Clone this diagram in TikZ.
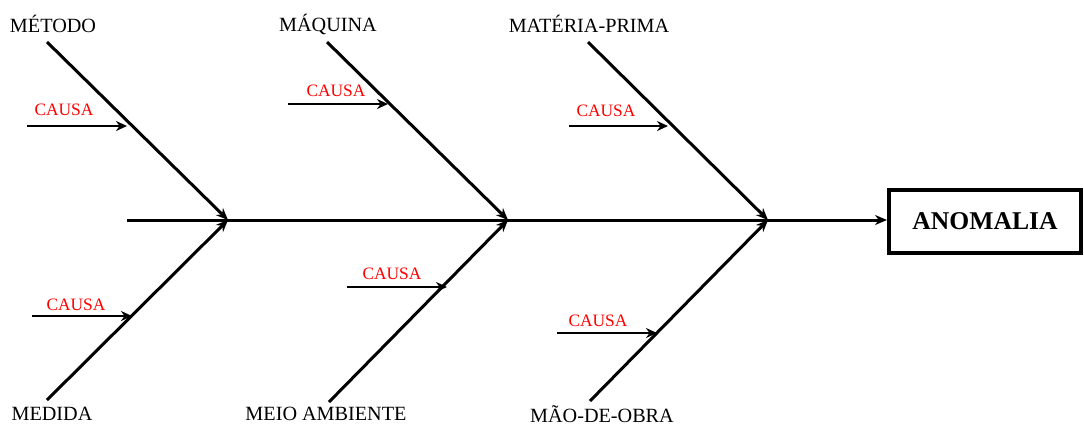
\documentclass[tikz,border=0pt]{standalone}
\usepackage{fontspec}
\setmainfont{Liberation Serif}
\usetikzlibrary{arrows.meta}
\begin{document}
\begin{tikzpicture}[x=0.5pt,y=-0.5pt,
  bone/.style={line width=1.5pt,-{Stealth[length=6pt,width=5pt]}},
  causearrow/.style={line width=1pt,-{Stealth[length=5.5pt,width=5pt]}},
  causelbl/.style={text=red,font=\fontsize{8.7}{10}\selectfont,inner sep=0pt},
  catlbl/.style={font=\fontsize{10.1}{11}\selectfont,inner sep=0pt},
  effectbox/.style={draw,line width=2pt,minimum width=96pt,minimum height=31.5pt,font=\fontsize{12.8}{14}\selectfont\bfseries,inner sep=0pt}]
\useasboundingbox (0,0) rectangle (1084,425);
% junctions
\coordinate (j1) at (228,220);
\coordinate (j2) at (508,220);
\coordinate (j3) at (768,220);
\coordinate (s0) at (127,220);
\node[effectbox] (anomalia) at (985,221.5) {ANOMALIA};
\draw[bone] (s0) -- (s0 -| anomalia.west);
% branch starts
\coordinate (b1) at (47,42);
\coordinate (b2) at (47,400);
\coordinate (b3) at (327,42);
\coordinate (b4) at (329,402);
\coordinate (b5) at (588,42);
\coordinate (b6) at (590,401);
\draw[bone] (b1) -- (j1);
\draw[bone] (b2) -- (j1);
\draw[bone] (b3) -- (j2);
\draw[bone] (b4) -- (j2);
\draw[bone] (b5) -- (j3);
\draw[bone] (b6) -- (j3);
% category labels
\node[catlbl] (metodo) at (53,24) {MÉTODO};
\node[catlbl] (maquina) at (328,24) {MÁQUINA};
\node[catlbl] (materia) at (589,24) {MATÉRIA-PRIMA};
\node[catlbl] (medida) at (52,414) {MEDIDA};
\node[catlbl] (meio) at (326,414) {MEIO AMBIENTE};
\node[catlbl] (maodeobra) at (602,414) {MÃO-DE-OBRA};
% cause arrows
\coordinate (c1s) at (27,126);  \coordinate (c1e) at (127,126);
\coordinate (c2s) at (32,316);  \coordinate (c2e) at (132,316);
\coordinate (c3s) at (288,104); \coordinate (c3e) at (388,104);
\coordinate (c4s) at (347,287); \coordinate (c4e) at (447,287);
\coordinate (c5s) at (569,126); \coordinate (c5e) at (668,126);
\coordinate (c6s) at (557,333); \coordinate (c6e) at (657,333);
\draw[causearrow] (c1s) -- (c1e);
\draw[causearrow] (c2s) -- (c2e);
\draw[causearrow] (c3s) -- (c3e);
\draw[causearrow] (c4s) -- (c4e);
\draw[causearrow] (c5s) -- (c5e);
\draw[causearrow] (c6s) -- (c6e);
\node[causelbl] (k1) at (64,110) {CAUSA};
\node[causelbl] (k2) at (76,305) {CAUSA};
\node[causelbl] (k3) at (336,91) {CAUSA};
\node[causelbl] (k4) at (392,274) {CAUSA};
\node[causelbl] (k5) at (606,111) {CAUSA};
\node[causelbl] (k6) at (598,321) {CAUSA};
\end{tikzpicture}
\end{document}
